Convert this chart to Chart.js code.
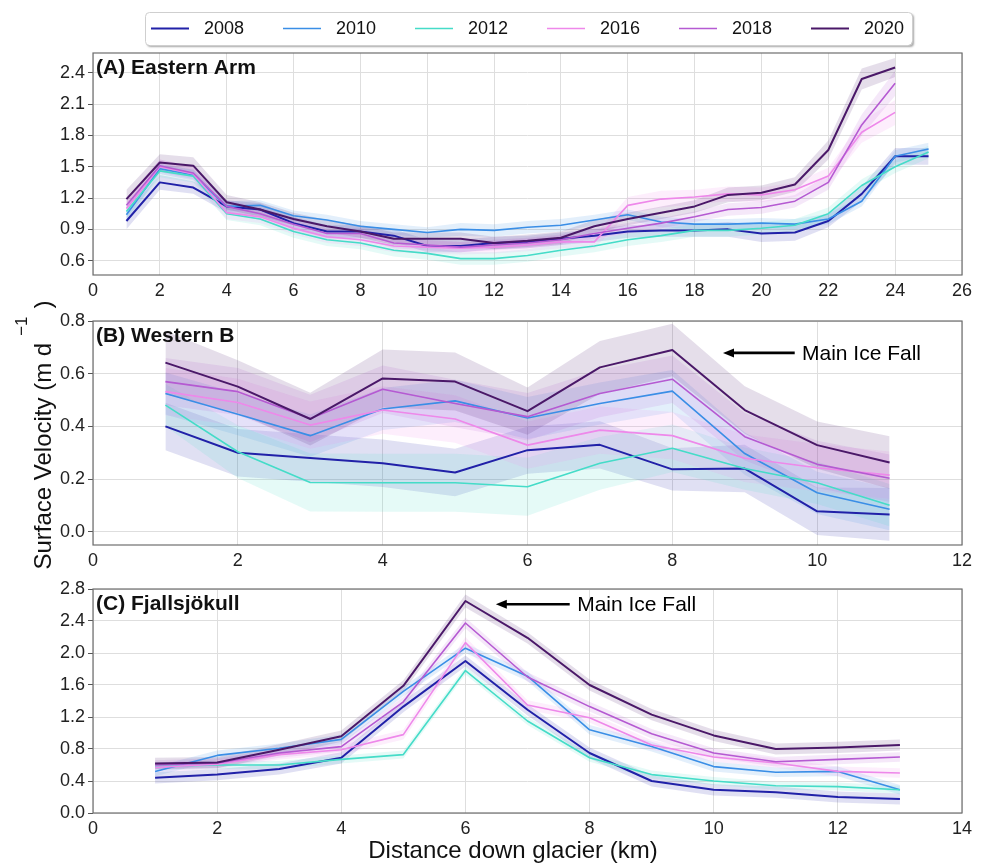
<!DOCTYPE html>
<html>
<head>
<meta charset="utf-8">
<title>Surface velocity down glacier</title>
<script src="https://cdn.jsdelivr.net/npm/chart.js@4.4.1/dist/chart.umd.min.js"></script>
<style>
  html, body { margin: 0; padding: 0; background: #ffffff; }
  body { width: 987px; height: 866px; position: relative; overflow: hidden; }
  canvas { position: absolute; left: 0; }
</style>
</head>
<body>
<canvas id="panelA" width="987" height="307" style="top:0px"></canvas>
<canvas id="panelB" width="987" height="292" style="top:285px"></canvas>
<canvas id="panelC" width="987" height="291" style="top:575px"></canvas>
<script>
// ---------- data ----------
const years = ['2008', '2010', '2012', '2016', '2018', '2020'];

// (A) Eastern Arm
const distA_long  = [1,2,3,4,5,6,7,8,9,10,11,12,13,14,15,16,17,18,19,20,21,22,23,24,25];
const distA_short = [1,2,3,4,5,6,7,8,9,10,11,12,13,14,15,16,17,18,19,20,21,22,23,24];
const velA_2008 = [0.98,1.35,1.30,1.12,1.09,0.96,0.88,0.88,0.84,0.74,0.74,0.77,0.78,0.81,0.84,0.88,0.89,0.89,0.90,0.86,0.87,0.98,1.24,1.60,1.60];
const velA_2010 = [1.04,1.48,1.42,1.12,1.13,1.03,0.99,0.93,0.90,0.87,0.90,0.89,0.92,0.94,0.99,1.04,0.97,0.95,0.95,0.96,0.95,1.00,1.17,1.60,1.67];
const velA_2012 = [1.07,1.46,1.41,1.05,1.00,0.88,0.80,0.77,0.70,0.67,0.62,0.62,0.65,0.70,0.74,0.80,0.84,0.89,0.89,0.91,0.94,1.05,1.32,1.50,1.64];
const velA_2016 = [1.10,1.50,1.43,1.06,1.02,0.91,0.83,0.80,0.74,0.73,0.72,0.73,0.75,0.78,0.78,1.13,1.19,1.21,1.24,1.23,1.28,1.41,1.83,2.02];
const velA_2018 = [1.13,1.51,1.44,1.12,1.05,0.95,0.86,0.86,0.77,0.75,0.73,0.75,0.77,0.80,0.86,0.91,0.96,1.02,1.09,1.11,1.17,1.35,1.90,2.30];
const velA_2020 = [1.19,1.54,1.51,1.16,1.09,1.00,0.93,0.88,0.81,0.81,0.81,0.77,0.79,0.82,0.93,1.00,1.06,1.12,1.23,1.25,1.33,1.66,2.34,2.45];
const errA_2008 = [0.08,0.07,0.06,0.06,0.06,0.06,0.06,0.06,0.06,0.06,0.06,0.06,0.06,0.06,0.06,0.06,0.06,0.06,0.07,0.08,0.08,0.06,0.07,0.08,0.08];
const errA_2010 = [0.06,0.05,0.05,0.05,0.05,0.05,0.05,0.05,0.05,0.05,0.06,0.06,0.06,0.06,0.05,0.05,0.05,0.05,0.05,0.05,0.05,0.05,0.05,0.06,0.06];
const errA_2012 = [0.06,0.06,0.06,0.06,0.06,0.06,0.06,0.06,0.06,0.06,0.06,0.06,0.06,0.06,0.06,0.06,0.06,0.06,0.06,0.06,0.06,0.06,0.06,0.06,0.06];
const errA_2016 = [0.07,0.07,0.07,0.06,0.06,0.06,0.06,0.06,0.06,0.06,0.06,0.06,0.06,0.06,0.06,0.08,0.08,0.07,0.07,0.07,0.07,0.08,0.10,0.12];
const errA_2018 = [0.07,0.06,0.06,0.06,0.06,0.06,0.05,0.05,0.05,0.05,0.05,0.05,0.05,0.05,0.05,0.05,0.05,0.05,0.06,0.06,0.06,0.07,0.10,0.12];
const errA_2020 = [0.09,0.08,0.08,0.07,0.07,0.06,0.06,0.06,0.06,0.06,0.06,0.06,0.06,0.06,0.06,0.06,0.06,0.06,0.07,0.07,0.07,0.09,0.10,0.09];

// (B) Western B
const distB = [1,2,3,4,5,6,7,8,9,10,11];
const velB_2008 = [0.400,0.300,0.280,0.260,0.225,0.310,0.330,0.237,0.240,0.078,0.066];
const velB_2010 = [0.525,0.446,0.365,0.466,0.497,0.432,0.487,0.534,0.297,0.148,0.086];
const velB_2012 = [0.481,0.304,0.187,0.186,0.186,0.171,0.260,0.317,0.240,0.186,0.101];
const velB_2016 = [0.532,0.491,0.405,0.462,0.428,0.329,0.386,0.365,0.279,0.243,0.215];
const velB_2018 = [0.570,0.532,0.430,0.541,0.487,0.437,0.525,0.579,0.361,0.256,0.203];
const velB_2020 = [0.642,0.551,0.428,0.582,0.570,0.458,0.624,0.690,0.462,0.329,0.263];
const errB_2008 = [0.09,0.09,0.09,0.09,0.09,0.09,0.09,0.08,0.09,0.09,0.10];
const errB_2010 = [0.08,0.08,0.08,0.08,0.08,0.08,0.08,0.08,0.08,0.08,0.08];
const errB_2012 = [0.08,0.10,0.11,0.11,0.11,0.11,0.10,0.09,0.08,0.08,0.08];
const errB_2016 = [0.09,0.09,0.09,0.09,0.09,0.09,0.09,0.09,0.09,0.09,0.09];
const errB_2018 = [0.09,0.09,0.09,0.09,0.09,0.09,0.09,0.09,0.09,0.09,0.09];
const errB_2020 = [0.12,0.10,0.10,0.11,0.11,0.09,0.10,0.10,0.09,0.09,0.10];

// (C) Fjallsjökull
const distC = [1,2,3,4,5,6,7,8,9,10,11,12,13];
const velC_2008 = [0.44,0.48,0.55,0.69,1.33,1.90,1.29,0.75,0.40,0.29,0.26,0.20,0.175];
const velC_2010 = [0.52,0.72,0.81,0.92,1.52,2.06,1.71,1.04,0.83,0.58,0.51,0.52,0.29];
const velC_2012 = [0.58,0.60,0.60,0.67,0.73,1.78,1.15,0.69,0.48,0.40,0.34,0.33,0.29];
const velC_2016 = [0.57,0.61,0.73,0.79,0.98,2.13,1.35,1.19,0.85,0.70,0.625,0.52,0.50];
const velC_2018 = [0.60,0.625,0.75,0.83,1.39,2.375,1.70,1.33,0.99,0.75,0.64,0.67,0.70];
const velC_2020 = [0.62,0.63,0.79,0.96,1.59,2.65,2.19,1.60,1.23,0.97,0.80,0.82,0.85];
const errC_2008 = [0.07,0.07,0.07,0.07,0.07,0.07,0.07,0.07,0.07,0.07,0.07,0.07,0.07];
const errC_2010 = [0.06,0.06,0.06,0.06,0.06,0.06,0.06,0.06,0.06,0.06,0.06,0.06,0.06];
const errC_2012 = [0.05,0.05,0.05,0.05,0.05,0.05,0.05,0.05,0.05,0.05,0.05,0.05,0.05];
const errC_2016 = [0.06,0.06,0.06,0.06,0.06,0.07,0.06,0.06,0.06,0.06,0.06,0.06,0.06];
const errC_2018 = [0.06,0.06,0.06,0.06,0.06,0.07,0.06,0.06,0.06,0.06,0.06,0.06,0.06];
const errC_2020 = [0.07,0.07,0.07,0.07,0.07,0.08,0.07,0.07,0.07,0.07,0.07,0.07,0.07];

// tick labels
const xTicksA = [0,2,4,6,8,10,12,14,16,18,20,22,24,26];
const yTicksA = [0.6,0.9,1.2,1.5,1.8,2.1,2.4];
const xTicksB = [0,2,4,6,8,10,12];
const yTicksB = [0.0,0.2,0.4,0.6,0.8];
const xTicksC = [0,2,4,6,8,10,12,14];
const yTicksC = [0.0,0.4,0.8,1.2,1.6,2.0,2.4,2.8];

// ---------- styling ----------
const FONT = '"Liberation Sans", Arial, Helvetica, sans-serif';
const lineColors = ['#2121a8', '#3a8ee6', '#45dcc8', '#ee88ea', '#b55ad2', '#4a1868'];
const lineWidths = [2.0, 1.6, 1.6, 1.6, 1.6, 2.0];
const BAND_ALPHA = 0.14;

function rgba(hex, a) {
  const n = parseInt(hex.slice(1), 16);
  return `rgba(${(n >> 16) & 255},${(n >> 8) & 255},${n & 255},${a})`;
}

function buildDatasets(series) {
  const ds = [];
  // shaded uncertainty bands (upper bound filled down to lower bound)
  series.forEach((s, k) => {
    ds.push({
      data: s.x.map((x, i) => ({ x, y: s.y[i] + s.e[i] })),
      borderColor: 'rgba(0,0,0,0)', borderWidth: 0, pointRadius: 0,
      backgroundColor: rgba(lineColors[k], BAND_ALPHA),
      fill: '+1', tension: 0, order: 200 - k
    });
    ds.push({
      data: s.x.map((x, i) => ({ x, y: s.y[i] - s.e[i] })),
      borderColor: 'rgba(0,0,0,0)', borderWidth: 0, pointRadius: 0,
      fill: false, tension: 0, order: 200 - k
    });
  });
  // mean velocity lines, later years drawn on top
  series.forEach((s, k) => {
    ds.push({
      label: years[k],
      data: s.x.map((x, i) => ({ x, y: s.y[i] })),
      borderColor: lineColors[k], borderWidth: lineWidths[k],
      pointRadius: 0, fill: false, tension: 0,
      borderJoinStyle: 'round', order: 50 - k
    });
  });
  return ds;
}

// frame, panel title, arrows, legend and shared axis labels
const decor = {
  id: 'decor',
  afterDraw(chart, args, o) {
    const { ctx, chartArea: a, scales: { x, y } } = chart;
    ctx.save();
    ctx.strokeStyle = '#6e6e6e';
    ctx.lineWidth = 1.2;
    ctx.strokeRect(a.left, a.top, a.right - a.left, a.bottom - a.top);

    ctx.fillStyle = '#111';
    ctx.textAlign = 'left';
    ctx.textBaseline = 'alphabetic';
    if (o.title) {
      ctx.font = 'bold 21px ' + FONT;
      ctx.fillText(o.title, a.left + 3, a.top + 21);
    }
    if (o.arrow) {
      const ar = o.arrow;
      const tipX = x.getPixelForValue(ar.tip);
      const tailX = x.getPixelForValue(ar.tail);
      const py = y.getPixelForValue(ar.y);
      ctx.strokeStyle = '#000';
      ctx.fillStyle = '#000';
      ctx.lineWidth = 2.6;
      ctx.beginPath();
      ctx.moveTo(tailX, py);
      ctx.lineTo(tipX + 8, py);
      ctx.stroke();
      ctx.beginPath();
      ctx.moveTo(tipX, py);
      ctx.lineTo(tipX + 11, py - 4.5);
      ctx.lineTo(tipX + 11, py + 4.5);
      ctx.closePath();
      ctx.fill();
      ctx.font = '21px ' + FONT;
      ctx.textBaseline = 'middle';
      ctx.fillText(ar.text, x.getPixelForValue(ar.textAt), py + 1);
      ctx.textBaseline = 'alphabetic';
    }
    if (o.legend) {
      const L = o.legend;
      ctx.save();
      ctx.shadowColor = 'rgba(0,0,0,0.35)';
      ctx.shadowOffsetX = 2;
      ctx.shadowOffsetY = 2;
      ctx.shadowBlur = 2;
      ctx.fillStyle = '#fff';
      ctx.beginPath();
      ctx.roundRect(L.left, L.top, L.width, L.height, 4);
      ctx.fill();
      ctx.restore();
      ctx.strokeStyle = '#cfcfcf';
      ctx.lineWidth = 1;
      ctx.beginPath();
      ctx.roundRect(L.left + 0.5, L.top + 0.5, L.width, L.height, 4);
      ctx.stroke();
      const cy = L.top + L.height / 2;
      ctx.font = '18px ' + FONT;
      ctx.textBaseline = 'middle';
      years.forEach((yr, k) => {
        const x0 = L.first + k * L.step;
        ctx.strokeStyle = lineColors[k];
        ctx.lineWidth = lineWidths[k];
        ctx.beginPath();
        ctx.moveTo(x0, cy);
        ctx.lineTo(x0 + 38, cy);
        ctx.stroke();
        ctx.fillStyle = '#111';
        ctx.fillText(yr, x0 + 53, cy + 1);
      });
      ctx.textBaseline = 'alphabetic';
    }
    if (o.yLabel) {
      const Y = o.yLabel;
      ctx.save();
      ctx.translate(Y.x, Y.y);
      ctx.rotate(-Math.PI / 2);
      ctx.fillStyle = '#111';
      ctx.font = '24px ' + FONT;
      const wMain = ctx.measureText(Y.main).width;
      const wClose = ctx.measureText(')').width;
      ctx.font = '17px ' + FONT;
      const wSup = ctx.measureText(Y.sup).width;
      const total = wMain + 7 + wSup + 8 + wClose;
      let p = -total / 2;
      ctx.font = '24px ' + FONT;
      ctx.fillText(Y.main, p, 0);
      p += wMain + 7;
      ctx.font = '17px ' + FONT;
      ctx.fillText(Y.sup, p, -24);
      p += wSup + 8;
      ctx.font = '24px ' + FONT;
      ctx.fillText(')', p, 0);
      ctx.restore();
    }
    if (o.xLabel) {
      ctx.font = '24px ' + FONT;
      ctx.textAlign = 'center';
      ctx.fillStyle = '#111';
      ctx.fillText(o.xLabel.text, o.xLabel.x, o.xLabel.y);
    }
    ctx.restore();
  }
};

function makePanel(id, p) {
  return new Chart(document.getElementById(id), {
    type: 'line',
    data: { datasets: buildDatasets(p.series) },
    plugins: [decor],
    options: {
      responsive: false,
      animation: false,
      events: [],
      layout: { padding: { left: 0, right: 25, top: p.padTop, bottom: 0 } },
      plugins: {
        legend: { display: false },
        tooltip: { enabled: false },
        decor: p.decor
      },
      scales: {
        x: {
          type: 'linear', min: p.xMin, max: p.xMax,
          afterBuildTicks: s => { s.ticks = p.xTicks.map(v => ({ value: v })); },
          afterFit: s => { s.height = p.xAxisH; },
          grid: { color: '#dedede', lineWidth: 1, drawTicks: false },
          border: { display: false },
          ticks: { autoSkip: false, maxRotation: 0, padding: 5, color: '#222',
                   font: { family: FONT, size: 18 }, callback: v => String(v) }
        },
        y: {
          type: 'linear', min: p.yMin, max: p.yMax,
          afterBuildTicks: s => { s.ticks = p.yTicks.map(v => ({ value: v })); },
          afterFit: s => { s.width = 93; },
          grid: { color: '#dedede', lineWidth: 1, tickLength: 5, tickColor: '#555' },
          border: { display: false },
          ticks: { autoSkip: false, padding: 3, color: '#222',
                   font: { family: FONT, size: 18 }, callback: v => Number(v).toFixed(1) }
        }
      }
    }
  });
}

makePanel('panelA', {
  series: [
    { x: distA_long,  y: velA_2008, e: errA_2008 },
    { x: distA_long,  y: velA_2010, e: errA_2010 },
    { x: distA_long,  y: velA_2012, e: errA_2012 },
    { x: distA_short, y: velA_2016, e: errA_2016 },
    { x: distA_short, y: velA_2018, e: errA_2018 },
    { x: distA_short, y: velA_2020, e: errA_2020 }
  ],
  xMin: 0, xMax: 26, yMin: 0.463, yMax: 2.589,
  xTicks: xTicksA, yTicks: yTicksA,
  padTop: 53, xAxisH: 32,
  decor: {
    title: '(A) Eastern Arm',
    legend: { left: 145, top: 12, width: 767, height: 33, first: 151, step: 132 }
  }
});

makePanel('panelB', {
  series: [
    { x: distB, y: velB_2008, e: errB_2008 },
    { x: distB, y: velB_2010, e: errB_2010 },
    { x: distB, y: velB_2012, e: errB_2012 },
    { x: distB, y: velB_2016, e: errB_2016 },
    { x: distB, y: velB_2018, e: errB_2018 },
    { x: distB, y: velB_2020, e: errB_2020 }
  ],
  xMin: 0, xMax: 12, yMin: -0.05, yMax: 0.8,
  xTicks: xTicksB, yTicks: yTicksB,
  padTop: 36, xAxisH: 32,
  decor: {
    title: '(B) Western B',
    arrow: { tip: 8.70, tail: 9.69, y: 0.679, textAt: 9.79, text: 'Main Ice Fall' },
    yLabel: { x: 51, y: 150, main: 'Surface Velocity (m d', sup: '\u22121' }
  }
});

makePanel('panelC', {
  series: [
    { x: distC, y: velC_2008, e: errC_2008 },
    { x: distC, y: velC_2010, e: errC_2010 },
    { x: distC, y: velC_2012, e: errC_2012 },
    { x: distC, y: velC_2016, e: errC_2016 },
    { x: distC, y: velC_2018, e: errC_2018 },
    { x: distC, y: velC_2020, e: errC_2020 }
  ],
  xMin: 0, xMax: 14, yMin: 0, yMax: 2.8,
  xTicks: xTicksC, yTicks: yTicksC,
  padTop: 14, xAxisH: 53,
  decor: {
    title: '(C) Fjallsj\u00f6kull',
    arrow: { tip: 6.49, tail: 7.68, y: 2.61, textAt: 7.80, text: 'Main Ice Fall' },
    xLabel: { text: 'Distance down glacier (km)', x: 513, y: 283 }
  }
});
</script>
</body>
</html>
